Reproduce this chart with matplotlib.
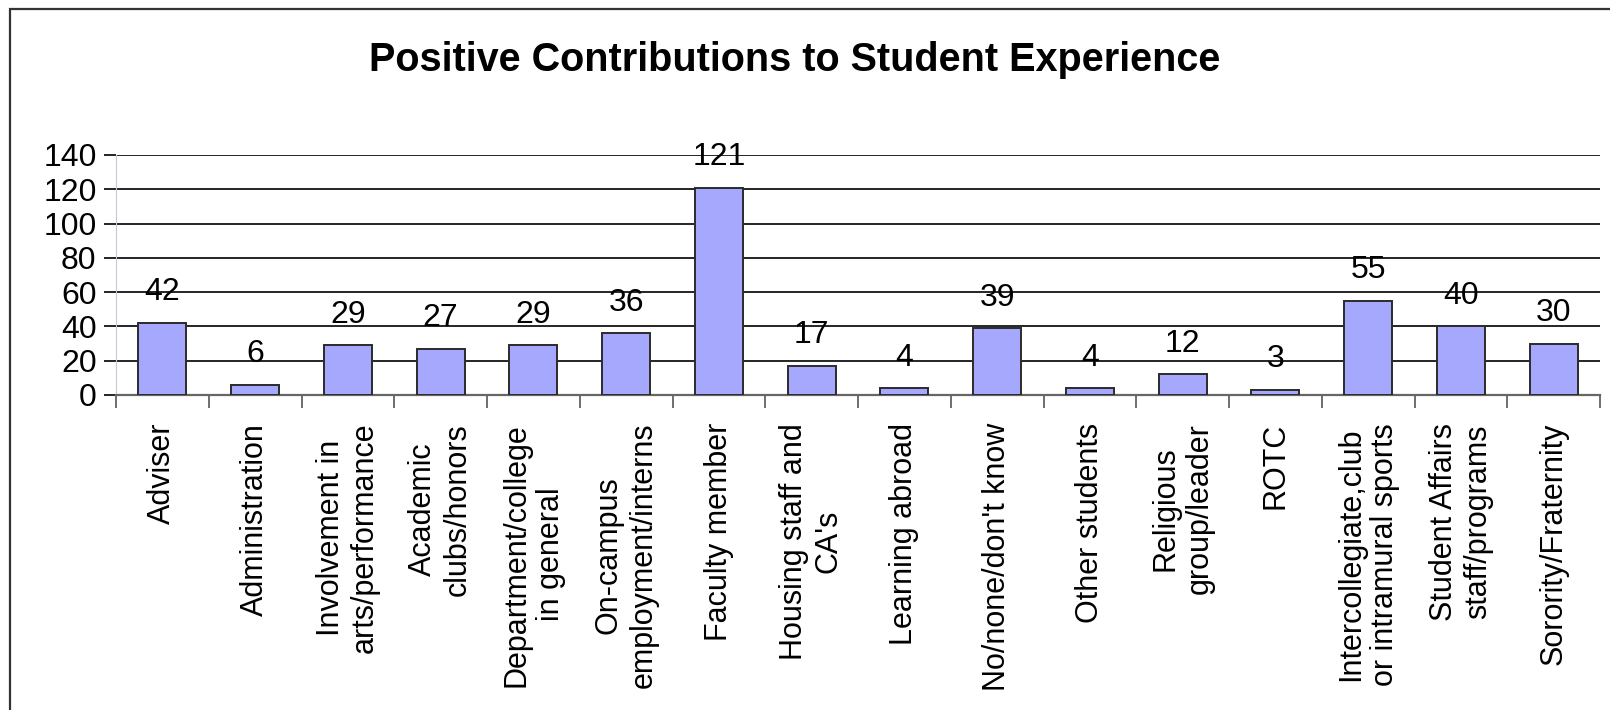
import numpy as np
import matplotlib.pyplot as plt
from matplotlib.patches import Rectangle

plt.rcParams['font.family'] = ['Liberation Sans', 'DejaVu Sans']

categories = ['Adviser', 'Administration', 'Involvement in\narts/performance',
              'Academic\nclubs/honors', 'Department/college\nin general',
              'On-campus\nemployment/interns', 'Faculty member',
              "Housing staff and\nCA's", 'Learning abroad', "No/none/don't know",
              'Other students', 'Religious\ngroup/leader', 'ROTC',
              'Intercollegiate,club\nor intramural sports',
              'Student Affairs\nstaff/programs', 'Sorority/Fraternity']
counts = [42, 6, 29, 27, 29, 36, 121, 17, 4, 39, 4, 12, 3, 55, 40, 30]
yticks = [0, 20, 40, 60, 80, 100, 120, 140]

W, H = 1610, 710
fig = plt.figure(figsize=(W / 100, H / 100), dpi=100)
ax = fig.add_axes([116 / W, 1 - 395 / H, (1600 - 116) / W, (395 - 155) / H])

x = np.arange(len(categories))
ax.bar(x, counts, width=0.52, color='#a5a8fd', edgecolor='#2b2b2b', linewidth=1.4, zorder=3)

for xi, v in zip(x, counts):
    ax.annotate(str(v), (xi, v), xytext=(0, 22), textcoords='offset points',
                ha='center', va='center', fontsize=23, color='black', zorder=4)

ax.set_xlim(-0.5, len(categories) - 0.5)
ax.set_ylim(0, 140)
ax.set_yticks(yticks)
ax.tick_params(axis='y', labelsize=23, length=9, width=1.2, color='black', pad=5)
ax.yaxis.grid(True, color='black', linewidth=1.2, zorder=0)
ax.set_axisbelow(True)

# category labels sit between boundary ticks
ax.set_xticks(x)
ax.set_xticklabels(categories, rotation=90, fontsize=22, ha='center', va='top',
                   multialignment='center')
ax.tick_params(axis='x', length=0, pad=20)
ax.set_xticks(np.arange(len(categories) + 1) - 0.5, minor=True)
ax.tick_params(axis='x', which='minor', length=9, width=1.2, color='#555555')

for side in ['top', 'right']:
    ax.spines[side].set_visible(False)
ax.spines['left'].set_color('#c8c8d8')
ax.spines['bottom'].set_color('#666666')
ax.spines['bottom'].set_linewidth(1.6)

fig.text(795 / W, 1 - 60 / H, 'Positive Contributions to Student Experience',
         ha='center', va='center', fontsize=28.5, fontweight='bold')

# outer chart frame
fig.patches.append(Rectangle((10 / W, -0.1), 1.2, 1 - 9 / H + 0.1, transform=fig.transFigure,
                             fill=False, edgecolor='#333333', linewidth=1.6))

fig.savefig('out.png', dpi=100)
